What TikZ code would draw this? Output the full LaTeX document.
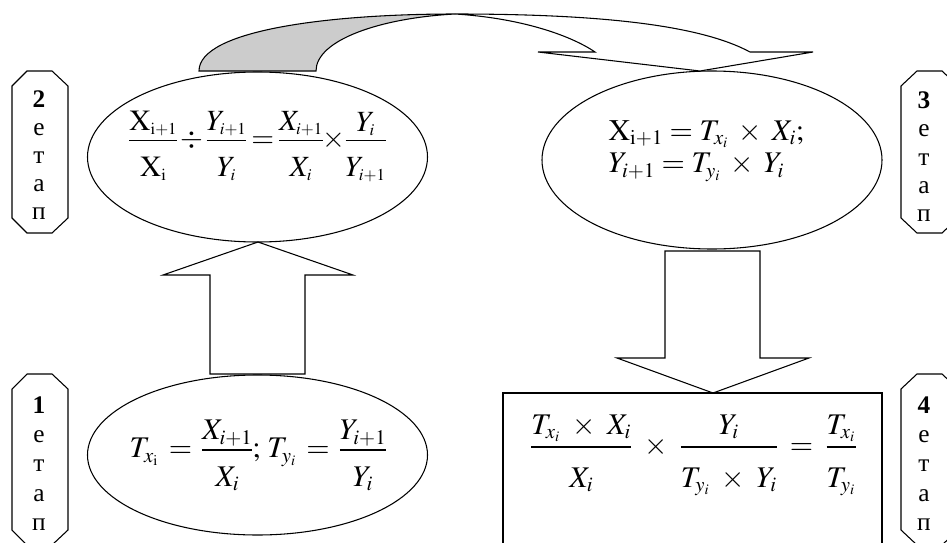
\documentclass[tikz,border=0pt]{standalone}
\usepackage{amsmath}
\usepackage{mathptmx}
\usepackage{fontspec}
\setmainfont{Liberation Serif}
\usetikzlibrary{shapes.geometric}
\DeclareMathSizes{22}{22}{12.5}{9}
\DeclareMathSizes{22.5}{22.5}{15.5}{11}
\definecolor{arrowgray}{RGB}{204,204,204}
\newcommand{\Efrac}[2]{\dfrac{\lower3pt\hbox{$\displaystyle #1$}}{\rule{0pt}{24pt}#2}}
\newcommand{\Rfrac}[2]{\dfrac{#1}{\rule{0pt}{27pt}#2}}
\tikzset{
  stageell/.style={draw, ellipse, inner sep=0pt},
  formula/.style={inner sep=0pt, anchor=base, font=\fontsize{22.5}{27}\selectfont},
  formulasmall/.style={inner sep=0pt, anchor=base, font=\fontsize{22}{26}\selectfont},
  stagelabel/.style={anchor=north, align=center, inner sep=0pt, font=\fontsize{19}{22}\selectfont},
  octbox/.style={draw, line join=miter},
  blockarrow/.style={draw, fill=white, line join=miter},
  rectbox/.style={draw, inner sep=0pt}
}
\begin{document}
\begin{tikzpicture}[x=0.75pt, y=-0.75pt, line width=0.8pt]
\useasboundingbox (0,0) rectangle (947,543);
\clip (0,0) rectangle (947,543);

% stage label boxes
\draw[octbox] (12,86) -- (27,71) -- (52,71) -- (68,86) -- (68,218) -- (52,233) -- (27,233) -- (12,218) -- cycle;
\draw[octbox] (901,86) -- (917,71) -- (942,71) -- (958,86) -- (958,218) -- (942,233) -- (917,233) -- (901,218) -- cycle;
\draw[octbox] (12,389) -- (27,374) -- (52,374) -- (68,389) -- (68,530) -- (52,545) -- (27,545) -- (12,530) -- cycle;
\draw[octbox] (901,389) -- (917,374) -- (942,374) -- (958,389) -- (958,530) -- (942,545) -- (917,545) -- (901,530) -- cycle;
\node[stagelabel, font=\fontsize{19}{21}\selectfont] (l2) at (39,90) {\textbf{2}\\е\\т\\а\\п};
\node[stagelabel, font=\fontsize{19}{21.3}\selectfont] (l3) at (924,91) {\textbf{3}\\е\\т\\а\\п};
\node[stagelabel] (l1) at (39,396) {\textbf{1}\\е\\т\\а\\п};
\node[stagelabel] (l4) at (924,396) {\textbf{4}\\е\\т\\а\\п};

% block arrows
\draw[blockarrow] (210,374) -- (210,275) -- (163,275) -- (258,242) -- (353,275) -- (305,275) -- (305,374) -- cycle;
\draw[blockarrow] (665,251) -- (760,251) -- (760,358) -- (809,358) -- (713,393) -- (617,358) -- (665,358) -- cycle;

% ellipses
\node[stageell, minimum width=255pt, minimum height=127.5pt] (e2) at (257.5,157) {};
\node[stageell, minimum width=255pt, minimum height=133.5pt] (e3) at (712,160) {};
\node[stageell, minimum width=255pt, minimum height=120pt] (e1) at (257.5,455) {};
\node[rectbox, minimum width=284.25pt, minimum height=114pt] (r4) at (692.5,469) {};

% curved arrow
\draw[fill=white, line join=miter] (455,14) .. controls (600,14) and (700,25) .. (750,52) -- (813,52) -- (700,71) -- (538,52) -- (595,52) .. controls (570,35) and (520,18) .. (455,14) -- cycle;
\draw[fill=arrowgray, line join=miter] (199,71) .. controls (199,30) and (330,14) .. (455,14) .. controls (380,18) and (316,40) .. (316,71) -- cycle;

% formulas
\node[formulasmall] (f2) at (257.5,147.5) {$\nulldelimiterspace=0pt\medmuskip=2mu\thickmuskip=3mu\Efrac{\mathrm{X}_{\mathrm{i+1}}}{\mathrm{X}_{\mathrm{i}}}\div\Efrac{Y_{i+1}}{Y_i}=\Efrac{X_{i+1}}{X_i}{\times}\Efrac{Y_i}{Y_{i+1}}$};
\node[formula, anchor=base west] (f3a) at (608,140) {$\medmuskip=6mu\mathrm{X}_{\mathrm{i+1}}=T_{x_i}\times X_i;$};
\node[formula, anchor=base west] (f3b) at (608,172.5) {$\medmuskip=6mu Y_{i+1}=T_{y_i}\times Y_i$};
\node[formula] (f1) at (258,457.5) {$\nulldelimiterspace=0pt\thickmuskip=6mu T_{x_{\mathrm{i}}}=\Efrac{X_{i+1}}{X_i};\mkern2mu T_{y_i}=\Efrac{Y_{i+1}}{Y_i}$};
\node[formula] (f4) at (693.5,454.5) {$\medmuskip=7mu\thickmuskip=7mu\Rfrac{T_{x_i}\times X_i}{X_i}\times\Rfrac{Y_i}{T_{y_i}\times Y_i}=\Rfrac{T_{x_i}}{T_{y_i}}$};
\end{tikzpicture}
\end{document}
